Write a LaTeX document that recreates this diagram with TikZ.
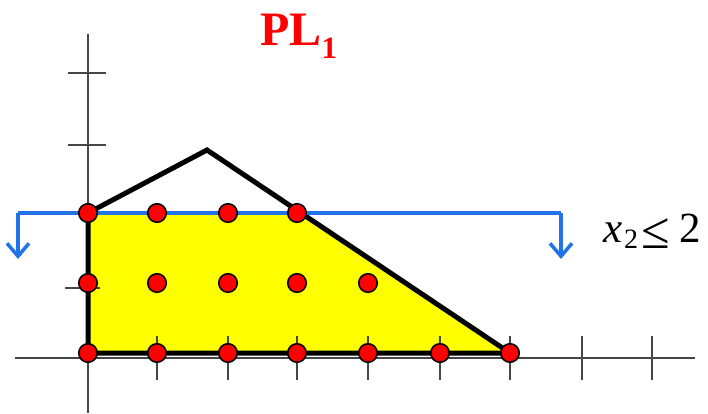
\documentclass[tikz,border=0pt]{standalone}
\usepackage{fontspec}
\setmainfont{Liberation Serif}
\usetikzlibrary{arrows.meta}
\definecolor{cutblue}{RGB}{35,115,232}
\definecolor{axisgray}{RGB}{70,70,70}
\definecolor{regionyellow}{RGB}{255,255,0}
\tikzset{
  axisline/.style={draw=axisgray,line width=2pt},
  ticks/.style={draw=axisgray,line width=2pt},
  polyline/.style={draw=black,line width=5pt,line join=miter},
  cutline/.style={draw=cutblue,line width=3.5pt},
  lattice/.style={circle,fill=red,draw=black,line width=1.6pt,minimum size=18.5pt,inner sep=0pt},
  cutarrow/.style={-{Straight Barb[length=13pt,width=22pt,line width=3.5pt]}},
  labeltext/.style={anchor=base west,inner sep=0pt,font=\fontsize{43}{46}\selectfont},
  subtext/.style={anchor=base west,inner sep=0pt,font=\fontsize{28}{30}\selectfont}
}
\begin{document}
\begin{tikzpicture}[x=1pt,y=-1pt]
\useasboundingbox (0,0) rectangle (708,413);
% feasible region (yellow)
\fill[regionyellow] (88,213) -- (297,213) -- (510,353) -- (88,353) -- cycle;
% axes
\draw[axisline] (15,358) -- (695,358);
\draw[axisline] (88,34) -- (88,413);
% x ticks
\foreach \x in {157,228,297,368,440,510,582,652}
  \draw[ticks] (\x,336) -- (\x,380);
% y ticks
\foreach \y in {73,145}
  \draw[ticks] (68,\y) -- (106,\y);
\draw[ticks] (65,288) -- (100,288);
% polygon PL
\coordinate (p0) at (88,353);
\coordinate (p1) at (88,213);
\coordinate (p2) at (207,150);
\coordinate (p3) at (510,353);
\draw[polyline] (p0) -- (p1) -- (p2) -- (p3) -- cycle;
% cut x2 <= 2
\coordinate (cL) at (18,213);
\coordinate (cLd) at (18,259);
\coordinate (cR) at (561,213);
\coordinate (cRd) at (561,259);
\draw[cutline,cutarrow] (cR) -- (cRd);
\draw[cutline,cutarrow] (cL) -- (cLd);
\draw[cutline] (cL) -- (cR);
% lattice points
\foreach \x/\n in {88/a,157/b,228/c,297/d,368/e,440/f,510/g}
  \node[lattice] (b\n) at (\x,353) {};
\foreach \x/\n in {88/a,157/b,228/c,297/d,368/e}
  \node[lattice] (m\n) at (\x,283) {};
\foreach \x/\n in {88/a,157/b,228/c,297/d}
  \node[lattice] (t\n) at (\x,213) {};
% labels
\node[labeltext] (lx) at (603,242) {\textit{x}};
\node[subtext] (lsub) at (624,248) {2};
\node[labeltext,font=\fontsize{52}{54}\selectfont] (lle) at (641,248) {≤};
\node[labeltext] (ltwo) at (679,242) {2};
\node[anchor=base west,inner sep=0pt,text=red,font=\fontsize{48}{52}\selectfont\bfseries] (title) at (260,45) {PL\raisebox{-13pt}{\fontsize{31}{34}\selectfont 1}};
\end{tikzpicture}
\end{document}
